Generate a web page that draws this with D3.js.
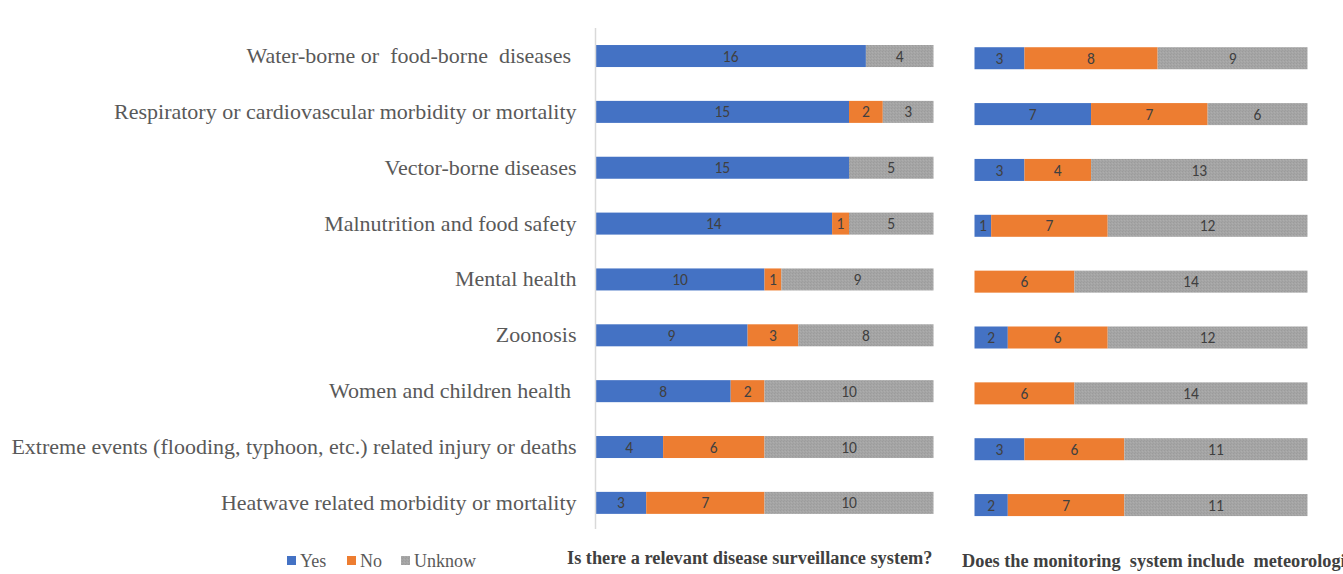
<!DOCTYPE html>
<html>
<head>
<meta charset="utf-8">
<script src="https://cdn.jsdelivr.net/npm/d3@7/dist/d3.min.js"></script>
<style>
  html, body { margin: 0; padding: 0; background: #fff; }
  svg { display: block; }
  .serif { font-family: "Times New Roman", "Liberation Serif", serif; }
</style>
</head>
<body>
<svg id="chart" width="1343" height="574"></svg>
<script>
// Health outcome categories (top to bottom)
const categories = [
  "Water-borne or  food-borne  diseases ",
  "Respiratory or cardiovascular morbidity or mortality",
  "Vector-borne diseases",
  "Malnutrition and food safety",
  "Mental health",
  "Zoonosis",
  "Women and children health ",
  "Extreme events (flooding, typhoon, etc.) related injury or deaths",
  "Heatwave related morbidity or mortality"
];

const seriesNames = ["Yes", "No", "Unknow"];

// Panel 1: Is there a relevant disease surveillance system?
const survYes     = [16, 15, 15, 14, 10, 9, 8, 4, 3];
const survNo      = [0, 2, 0, 1, 1, 3, 2, 6, 7];
const survUnknown = [4, 3, 5, 5, 9, 8, 10, 10, 10];

// Panel 2: Does the monitoring system include meteorological data?
const metYes     = [3, 7, 3, 1, 0, 2, 0, 3, 2];
const metNo      = [8, 7, 4, 7, 6, 6, 6, 6, 7];
const metUnknown = [9, 6, 13, 12, 14, 12, 14, 11, 11];

const xTicks = [0, 20];

const panelTitles = [
  "Is there a relevant disease surveillance system?",
  "Does the monitoring  system include  meteorological data?"
];

const colors = { Yes: "#4472c4", No: "#ed7d31", Unknow: "#a5a5a5" };

const svg = d3.select("#chart");

// Fine speckle texture for the grey segments
const defs = svg.append("defs");
const pat = defs.append("pattern")
  .attr("id", "greyTex").attr("patternUnits", "userSpaceOnUse")
  .attr("width", 3).attr("height", 3);
pat.append("rect").attr("width", 3).attr("height", 3).attr("fill", "#a5a5a5");
pat.append("rect").attr("x", 0).attr("y", 0).attr("width", 1).attr("height", 1).attr("fill", "#9b9b9b");
pat.append("rect").attr("x", 2).attr("y", 1).attr("width", 1).attr("height", 1).attr("fill", "#adadad");
pat.append("rect").attr("x", 1).attr("y", 2).attr("width", 1).attr("height", 1).attr("fill", "#9e9e9e");

function toRows(yes, no, unk) {
  return categories.map((c, i) => ({ cat: c, Yes: yes[i], No: no[i], Unknow: unk[i] }));
}

const stack = d3.stack().keys(seriesNames);

function drawPanel(rows, xRange, yRange, withLabels) {
  const x = d3.scaleLinear().domain(d3.extent(xTicks)).range(xRange);
  const y = d3.scaleBand().domain(categories).range(yRange)
    .paddingInner(0.606).paddingOuter(0.5);

  const layers = stack(rows);
  const g = svg.append("g");

  layers.forEach(layer => {
    const key = layer.key;
    const segs = layer.filter(d => d[1] - d[0] > 0);
    g.selectAll(null).data(segs).enter().append("rect")
      .attr("x", d => x(d[0]))
      .attr("y", d => y(d.data.cat))
      .attr("width", d => x(d[1]) - x(d[0]))
      .attr("height", y.bandwidth())
      .attr("fill", key === "Unknow" ? "url(#greyTex)" : colors[key]);

    g.selectAll(null).data(segs).enter().append("text")
      .attr("x", d => (x(d[0]) + x(d[1])) / 2)
      .attr("y", d => y(d.data.cat) + y.bandwidth() / 2)
      .attr("dy", "0.36em")
      .attr("text-anchor", "middle")
      .attr("font-family", "Carlito, Lato, sans-serif")
      .attr("font-size", 15.5)
      .attr("fill", "#404040")
      .text(d => d[1] - d[0]);
  });

  if (withLabels) {
    const axis = d3.axisLeft(y).tickSize(0).tickPadding(19);
    const ag = svg.append("g")
      .attr("transform", `translate(${xRange[0]},0)`)
      .call(axis)
      .attr("font-family", null)
      .attr("font-size", null);
    ag.select(".domain").remove();
    ag.selectAll("text")
      .attr("class", "serif")
      .attr("font-size", 22)
      .attr("fill", "#595959")
      .style("white-space", "pre");
    // vertical category axis line
    svg.append("line")
      .attr("x1", xRange[0]).attr("x2", xRange[0])
      .attr("y1", 28).attr("y2", 529)
      .attr("stroke", "#d9d9d9").attr("stroke-width", 1.5);
  }
  return g;
}

drawPanel(toRows(survYes, survNo, survUnknown), [595.5, 933.5], [17.1, 541.8], true);
drawPanel(toRows(metYes, metNo, metUnknown), [974.5, 1307.5], [19.3, 544.0], false);

// Panel titles (condensed bold serif)
[[567, 564], [962, 567]].forEach((p, i) => {
  svg.append("text")
    .attr("class", "serif")
    .attr("transform", `translate(${p[0]},${p[1]}) scale(0.94,1)`)
    .attr("font-weight", "bold").attr("font-size", 19.5).attr("fill", "#404040")
    .style("white-space", "pre")
    .text(panelTitles[i]);
});

// Legend
const legendX = [287, 347, 401];
const lg = svg.append("g");
seriesNames.forEach((s, i) => {
  lg.append("rect").attr("x", legendX[i]).attr("y", 556).attr("width", 9).attr("height", 9)
    .attr("fill", s === "Unknow" ? "url(#greyTex)" : colors[s]);
  lg.append("text").attr("x", legendX[i] + 13).attr("y", 567)
    .attr("class", "serif")
    .attr("font-size", 18).attr("fill", "#595959")
    .text(s);
});
</script>
</body>
</html>
